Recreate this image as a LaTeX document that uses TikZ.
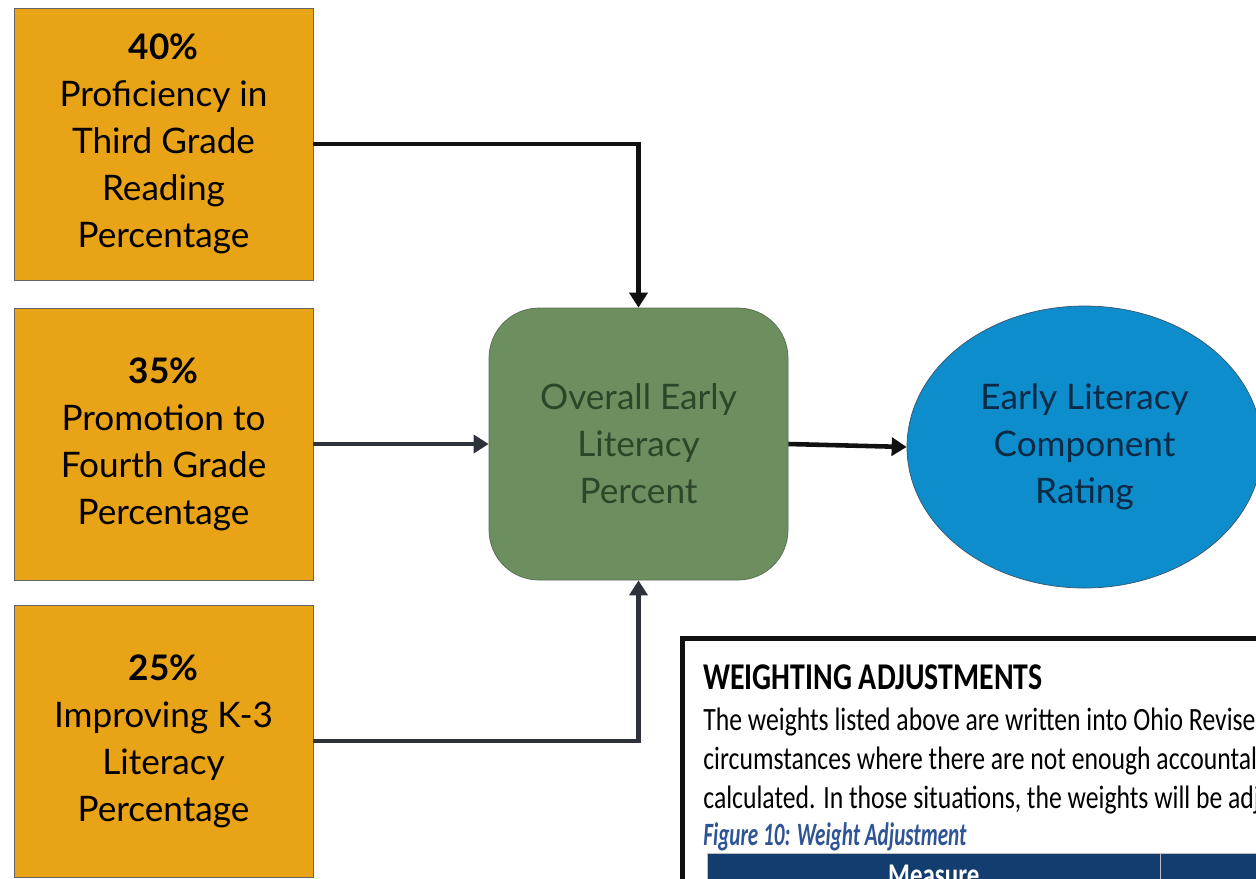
\documentclass[tikz,border=0pt]{standalone}
\usepackage{fontspec}
\setmainfont{Lato}
\newfontfamily\insetfont[FakeStretch=0.79]{Carlito}
\newfontfamily\capfont[FakeStretch=0.65]{Carlito}
\usetikzlibrary{arrows.meta,shapes.geometric}
\definecolor{litgold}{HTML}{E8A317}
\definecolor{litgreen}{HTML}{6D8F60}
\definecolor{litblue}{HTML}{0D8DCB}
\definecolor{litink}{HTML}{111111}
\definecolor{litslate}{HTML}{2E323A}
\definecolor{litleaf}{HTML}{2C4628}
\definecolor{litnight}{HTML}{0B2A45}
\definecolor{litnavy}{HTML}{123D6E}
\definecolor{litcap}{HTML}{2F5496}
\tikzset{
  bx/.style={align=center, font=\fontsize{20}{26.7}\selectfont, minimum width=5.98cm, minimum height=5.44cm, inner sep=0pt},
  wt/.style={bx, draw=litink!65, fill=litgold},
  agg/.style={bx, draw=litleaf!80, fill=litgreen, rounded corners=1cm, text=litleaf},
  rate/.style={bx, ellipse, draw=litnight!80, fill=litblue, text=litnight, minimum width=7.1cm, minimum height=5.64cm},
  arr/.style={-{Triangle[length=3mm, width=3.6mm]}, line width=2.6pt, color=litink},
  arr2/.style={arr, color=litslate},
  ins/.style={font=\insetfont\fontsize{18.5}{22}\selectfont, anchor=base west, inner sep=0pt},
  hd/.style={anchor=north west, fill=litnavy, draw=black!25, minimum height=9.9mm, inner ysep=2.4mm, text height=4.1mm, text depth=1mm, font=\insetfont\bfseries\fontsize{18}{22}\selectfont, text=white},
}
\begin{document}
\begin{tikzpicture}[x=0.2mm, y=-0.2mm]
    \useasboundingbox (0,0) rectangle (1256,878);
    \node[wt] (prof) at (163.5,144) {\textbf{40\%}\\Proficiency in\\Third Grade\\Reading\\Percentage};
    \node[wt] (promo) at (163.5,444) {\textbf{35\%}\\Promotion to\\Fourth Grade\\Percentage};
    \node[wt] (impr) at (163.5,741) {\textbf{25\%}\\Improving K-3\\Literacy\\Percentage};
    \node[agg] (overall) at (638.5,444) {Overall Early\\Literacy\\Percent};
    \node[rate] (rating) at (1084.5,447) {Early Literacy\\Component\\Rating};
    \draw[arr] (prof.east) -| (overall.north);
    \draw[arr2] (promo) -- (overall);
    \draw[arr2] (impr.east) -| (overall.south);
    \draw[arr] (overall.east) -- (rating.west);
    \draw[line width=1mm, color=litink, fill=white] (682.5,638.5) rectangle (1300,920);
    \node[ins, font=\insetfont\bfseries\fontsize{21.5}{26}\selectfont] (wtitle) at (703,689) {WEIGHTING ADJUSTMENTS};
    \node[ins] (wl1) at (703,730) {The weights listed above are written into Ohio Revise};
    \node[ins] (wl2) at (703,769) {circumstances where there are not enough accountal};
    \node[ins] (wl3) at (703,808) {calculated. In those situations, the weights will be adj};
    \node[ins, text=litcap, font=\capfont\bfseries\itshape\fontsize{18.5}{22}\selectfont] (wcap) at (703,845) {Figure 10: Weight Adjustment};
    \node[hd, minimum width=9.06cm] (hmeas) at (707,853) {Measure};
    \node[hd, minimum width=3cm] (hwt) at (1160,853) {};
\end{tikzpicture}
\end{document}
